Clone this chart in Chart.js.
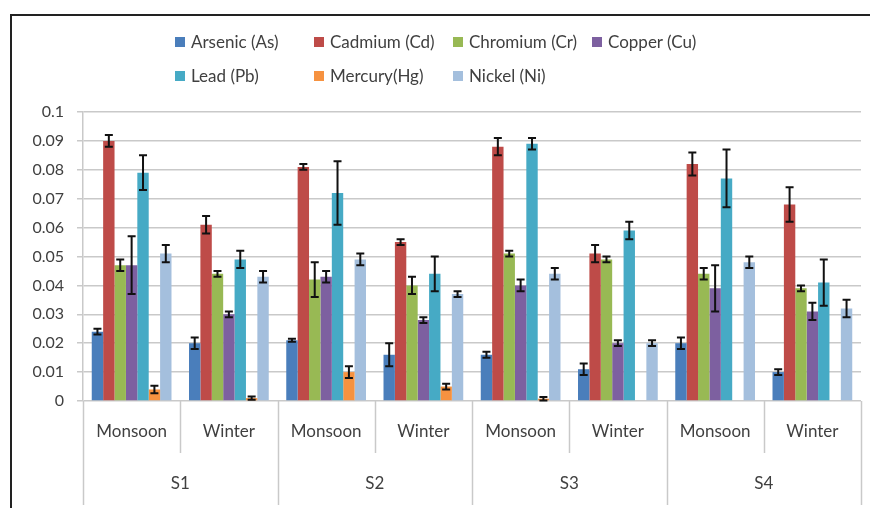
<!DOCTYPE html>
<html>
<head>
<meta charset="utf-8">
<script src="https://cdn.jsdelivr.net/npm/chart.js@4.4.1/dist/chart.umd.min.js"></script>
<style>
  html, body { margin: 0; padding: 0; background: #fff; }
  #wrap { position: relative; width: 870px; height: 508px; overflow: hidden; font-family: Lato, sans-serif; }
  #frame { position: absolute; left: 10px; top: 14px; width: 1000px; height: 600px;
           border-left: 2px solid #222; border-top: 2px solid #222; }
  #chart { position: absolute; left: 0; top: 0; }
  .lg { position: absolute; display: flex; align-items: center; font-size: 17px; color: #404040; white-space: nowrap; }
  .lg span.box { width: 10px; height: 10px; margin-right: 6px; display: inline-block; }
</style>
</head>
<body>
<div id="wrap">
  <div id="frame"></div>
  <canvas id="chart" width="870" height="508"></canvas>
  <div id="legend"></div>
</div>
<script>
// Category axis: season per site
const seasons = ['Monsoon', 'Winter', 'Monsoon', 'Winter', 'Monsoon', 'Winter', 'Monsoon', 'Winter'];
const sites   = ['S1', 'S2', 'S3', 'S4'];

// Series values (mg/L) and error (±)
const arsenic     = [0.024, 0.020, 0.021, 0.016, 0.016, 0.011, 0.020, 0.010];
const arsenicErr  = [0.001, 0.002, 0.0005, 0.004, 0.001, 0.002, 0.002, 0.001];
const cadmium     = [0.090, 0.061, 0.081, 0.055, 0.088, 0.051, 0.082, 0.068];
const cadmiumErr  = [0.002, 0.003, 0.001, 0.001, 0.003, 0.003, 0.004, 0.006];
const chromium    = [0.047, 0.044, 0.042, 0.040, 0.051, 0.049, 0.044, 0.039];
const chromiumErr = [0.002, 0.001, 0.006, 0.003, 0.001, 0.001, 0.002, 0.001];
const copper      = [0.047, 0.030, 0.043, 0.028, 0.040, 0.020, 0.039, 0.031];
const copperErr   = [0.010, 0.001, 0.002, 0.001, 0.002, 0.001, 0.008, 0.003];
const lead        = [0.079, 0.049, 0.072, 0.044, 0.089, 0.059, 0.077, 0.041];
const leadErr     = [0.006, 0.003, 0.011, 0.006, 0.002, 0.003, 0.010, 0.008];
const mercury     = [0.004, 0.001, 0.010, 0.005, 0.0008, null, null, null];
const mercuryErr  = [0.0013, 0.0006, 0.002, 0.001, 0.0006, null, null, null];
const nickel      = [0.051, 0.043, 0.049, 0.037, 0.044, 0.020, 0.048, 0.032];
const nickelErr   = [0.003, 0.002, 0.002, 0.001, 0.002, 0.001, 0.002, 0.003];

const seriesNames = ['Arsenic (As)', 'Cadmium (Cd)', 'Chromium (Cr)', 'Copper (Cu)',
                     'Lead (Pb)', 'Mercury(Hg)', 'Nickel (Ni)'];
const seriesData  = [arsenic, cadmium, chromium, copper, lead, mercury, nickel];
const seriesErr   = [arsenicErr, cadmiumErr, chromiumErr, copperErr, leadErr, mercuryErr, nickelErr];
const COLORS      = ['#4A7EBB', '#BE4B48', '#98B954', '#7D60A0', '#46AAC5', '#F69240', '#A4BFDD'];

const TEXT = '#404040';
const GRID = '#C9C9C9';
const FONT = 'Lato, sans-serif';

// Error bars drawn from the bar elements' positions
const errorBars = {
  id: 'errorBars',
  afterDatasetsDraw(chart) {
    const { ctx } = chart;
    const y = chart.scales.y;
    ctx.save();
    ctx.strokeStyle = '#111';
    ctx.lineWidth = 2;
    chart.data.datasets.forEach((ds, di) => {
      const meta = chart.getDatasetMeta(di);
      meta.data.forEach((bar, i) => {
        const v = ds.data[i], e = ds.err[i];
        if (v == null || e == null) return;
        const yTop = y.getPixelForValue(v + e);
        const yBot = y.getPixelForValue(v - e);
        const cap = 4;
        ctx.beginPath();
        ctx.moveTo(bar.x, yTop); ctx.lineTo(bar.x, yBot);
        ctx.moveTo(bar.x - cap, yTop); ctx.lineTo(bar.x + cap, yTop);
        ctx.moveTo(bar.x - cap, yBot); ctx.lineTo(bar.x + cap, yBot);
        ctx.stroke();
      });
    });
    ctx.restore();
  }
};

// Two-level category axis: separators and site labels
const groupAxis = {
  id: 'groupAxis',
  afterDraw(chart) {
    const { ctx, chartArea } = chart;
    const x = chart.scales.x;
    const n = seasons.length;
    const step = x.getPixelForValue(1) - x.getPixelForValue(0);
    const edge = i => x.getPixelForValue(i) - step / 2;
    const base = chartArea.bottom;
    ctx.save();
    ctx.strokeStyle = GRID;
    ctx.lineWidth = 1.5;
    for (let i = 0; i <= n; i++) {
      const px = Math.round(edge(i)) + 0.5;
      const len = (i % 2 === 0) ? 104 : 52;
      ctx.beginPath();
      ctx.moveTo(px, base);
      ctx.lineTo(px, base + len);
      ctx.stroke();
    }
    ctx.fillStyle = TEXT;
    ctx.font = '17px ' + FONT;
    ctx.textAlign = 'center';
    ctx.textBaseline = 'middle';
    sites.forEach((s, g) => {
      const cx = (edge(g * 2) + edge(g * 2 + 2)) / 2;
      ctx.fillText(s, cx, base + 83);
    });
    ctx.restore();
  }
};

const datasets = seriesNames.map((name, i) => ({
  label: name,
  data: seriesData[i],
  err: seriesErr[i],
  backgroundColor: COLORS[i],
  borderWidth: 0,
  categoryPercentage: 0.82,
  barPercentage: 1.0,
}));

new Chart(document.getElementById('chart'), {
  type: 'bar',
  data: { labels: seasons, datasets },
  options: {
    responsive: false,
    animation: false,
    layout: { padding: { top: 112, right: 9, bottom: 0, left: 0 } },
    plugins: { legend: { display: false }, tooltip: { enabled: false } },
    scales: {
      x: {
        grid: { display: false, drawTicks: false },
        border: { display: false },
        ticks: { color: TEXT, font: { family: FONT, size: 17 }, padding: 20, maxRotation: 0, autoSkip: false },
        afterFit: s => { s.height = 107; },
      },
      y: {
        min: 0, max: 0.1,
        ticks: {
          stepSize: 0.01, color: TEXT, padding: 13,
          font: { family: FONT, size: 16 },
          callback: v => String(+v.toFixed(2)),
        },
        grid: { color: GRID, lineWidth: 1.5, tickLength: 6 },
        border: { color: GRID, width: 1.5 },
        afterFit: s => { s.width = 83; },
      },
    },
  },
  plugins: [errorBars, groupAxis],
});

// Legend laid out in a 4-column grid
const legend = document.getElementById('legend');
seriesNames.forEach((name, i) => {
  const el = document.createElement('div');
  el.className = 'lg';
  el.style.left = (175 + (i % 4) * 139) + 'px';
  el.style.top = (31 + Math.floor(i / 4) * 34) + 'px';
  el.innerHTML = '<span class="box" style="background:' + COLORS[i] + '"></span>' + name;
  legend.appendChild(el);
});
</script>
</body>
</html>
